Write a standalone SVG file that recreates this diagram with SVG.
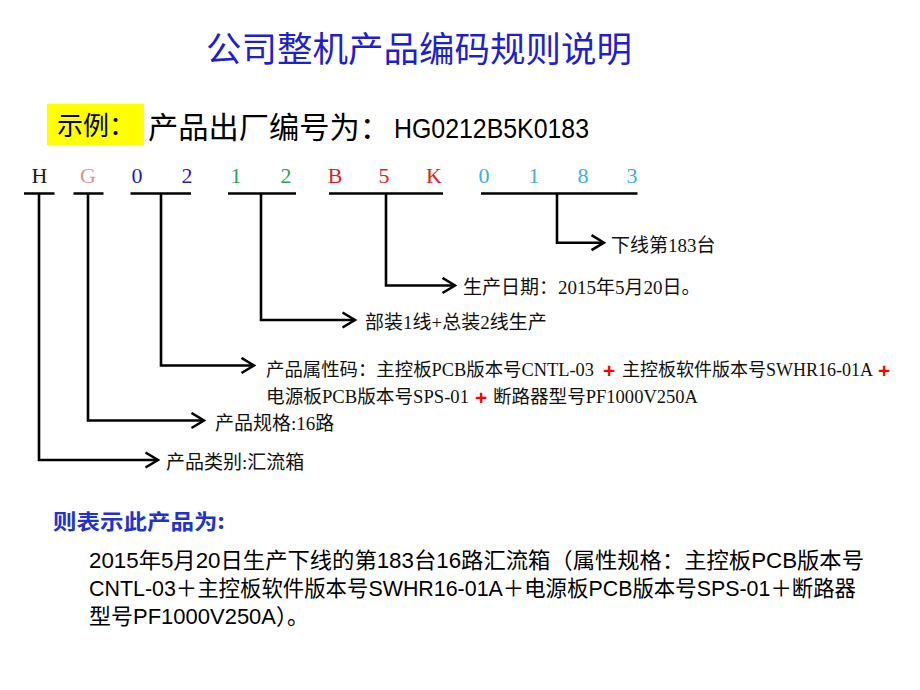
<svg xmlns="http://www.w3.org/2000/svg" width="920" height="690" viewBox="0 0 920 690">
<defs>
<style>
.cjk{font-family:"Noto Sans CJK SC","Noto Sans",sans-serif}
.code{font-family:"Liberation Serif","Noto Sans CJK SC",serif;font-size:22px;text-anchor:middle}
.lbl{font-family:"Liberation Serif","Noto Sans CJK SC",serif;font-size:19px;fill:#111}
.attr{font-size:18px}
.plus{font-family:"Liberation Sans",sans-serif;font-weight:bold;fill:#ff0000;font-size:21px}
.bar{stroke:#000;stroke-width:2.7;fill:none}
.conn{stroke:#000;stroke-width:2.6;fill:none;marker-end:url(#chev)}
.para{font-family:"Liberation Sans","Noto Sans CJK SC",sans-serif;font-size:22px;fill:#000}
</style>
<marker id="chev" viewBox="0 0 16 18" refX="14" refY="9" markerWidth="16" markerHeight="18" markerUnits="userSpaceOnUse" orient="auto">
<path d="M1.5,1.5 L14,9 L1.5,16.5" fill="none" stroke="#000" stroke-width="2.6"/>
</marker>
</defs>
<rect width="920" height="690" fill="#fff"/>

<g id="title">
<text class="cjk" x="206" y="62" font-size="35" fill="#1f1fd2" textLength="426" lengthAdjust="spacingAndGlyphs">公司整机产品编码规则说明</text>
</g>

<g id="example">
<rect x="47" y="104" width="97" height="41" fill="#ffff00"/>
<text class="cjk" x="57" y="135" font-size="26" fill="#000">示例：</text>
<text class="cjk" x="148" y="138" font-size="30" fill="#000" textLength="242" lengthAdjust="spacingAndGlyphs">产品出厂编号为：</text>
<text x="394" y="138" font-family="Liberation Sans,sans-serif" font-size="28" fill="#000" textLength="195" lengthAdjust="spacingAndGlyphs">HG0212B5K0183</text>
</g>

<g id="code">
<text class="code" x="39.5" y="183" fill="#1a1a1a">H</text>
<text class="code" x="88" y="183" fill="#d99694">G</text>
<text class="code" x="137" y="183" fill="#1c1cd0">0</text>
<text class="code" x="187" y="183" fill="#1c1cd0">2</text>
<text class="code" x="236" y="183" fill="#2ea257">1</text>
<text class="code" x="286" y="183" fill="#2ea257">2</text>
<text class="code" x="335" y="183" fill="#e02222">B</text>
<text class="code" x="384" y="183" fill="#e02222">5</text>
<text class="code" x="434" y="183" fill="#e02222">K</text>
<text class="code" x="484" y="183" fill="#3aaee0">0</text>
<text class="code" x="534" y="183" fill="#3aaee0">1</text>
<text class="code" x="583" y="183" fill="#3aaee0">8</text>
<text class="code" x="632" y="183" fill="#3aaee0">3</text>
</g>

<g id="connectors">
<path class="bar" d="M24,193.5 H54.5 M73.5,193.5 H103.5 M130.5,193.5 H191 M228,193.5 H296 M329,193.5 H443 M481,193.5 H637.5"/>
<path class="conn" d="M39,193.5 V460 H158"/>
<path class="conn" d="M88,193.5 V420.5 H204"/>
<path class="conn" d="M161,193.5 V365.5 H254"/>
<path class="conn" d="M261,193.5 V320 H355"/>
<path class="conn" d="M386,193.5 V285.5 H455"/>
<path class="conn" d="M557,193.5 V242.7 H604"/>
</g>

<g id="label-serial">
<text class="lbl" x="611" y="252">下线第183台</text>
</g>
<g id="label-date">
<text class="lbl" x="463" y="294">生产日期：2015年5月20日。</text>
</g>
<g id="label-line">
<text class="lbl" x="365" y="329">部装1线+总装2线生产</text>
</g>
<g id="label-attr">
<text class="lbl attr" x="266" y="376" textLength="328" lengthAdjust="spacingAndGlyphs">产品属性码：主控板PCB版本号CNTL-03</text>
<text class="plus" x="603" y="378">+</text>
<text class="lbl attr" x="622" y="376" textLength="251" lengthAdjust="spacingAndGlyphs">主控板软件版本号SWHR16-01A</text>
<text class="plus" x="878" y="378">+</text>
<text class="lbl attr" x="266" y="403" textLength="203" lengthAdjust="spacingAndGlyphs">电源板PCB版本号SPS-01</text>
<text class="plus" x="475" y="405">+</text>
<text class="lbl attr" x="493" y="403" textLength="205" lengthAdjust="spacingAndGlyphs">断路器型号PF1000V250A</text>
</g>
<g id="label-spec">
<text class="lbl" x="215" y="430">产品规格:16路</text>
</g>
<g id="label-type">
<text class="lbl" x="166" y="469">产品类别:汇流箱</text>
</g>

<g id="summary">
<text class="cjk" x="53" y="529" font-size="21" font-weight="bold" fill="#2233cc" textLength="172" lengthAdjust="spacingAndGlyphs">则表示此产品为:</text>
<text class="para" x="89" y="568" textLength="775" lengthAdjust="spacingAndGlyphs">2015年5月20日生产下线的第183台16路汇流箱（属性规格：主控板PCB版本号</text>
<text class="para" x="89" y="596" textLength="767" lengthAdjust="spacingAndGlyphs">CNTL-03＋主控板软件版本号SWHR16-01A＋电源板PCB版本号SPS-01＋断路器</text>
<text class="para" x="89" y="624" textLength="220" lengthAdjust="spacingAndGlyphs">型号PF1000V250A）。</text>
</g>
</svg>
